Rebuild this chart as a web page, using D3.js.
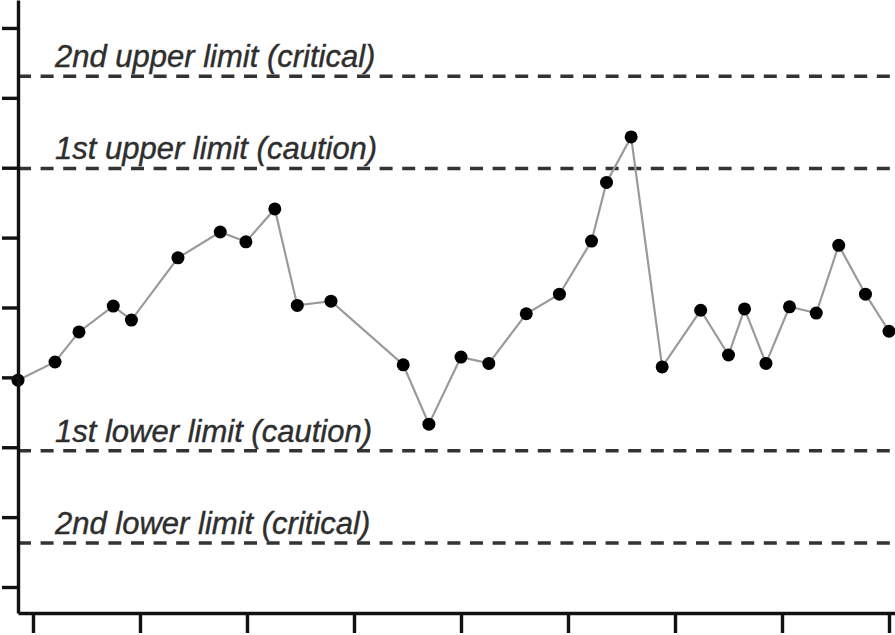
<!DOCTYPE html>
<html>
<head>
<meta charset="utf-8">
<script src="https://cdn.jsdelivr.net/npm/d3@7/dist/d3.min.js"></script>
<style>
  html, body { margin: 0; padding: 0; background: #fff; }
  svg { display: block; }
</style>
</head>
<body>
<svg id="chart" width="895" height="635"></svg>
<script>
// ---- data ----
const xValues = [-1.4, 2.06, 4.3, 7.5, 9.2, 13.55, 17.5, 19.9, 22.6, 24.7,
                 27.85, 34.6, 37.0, 40.0, 42.6, 46.1, 49.2, 52.2, 53.6, 55.9,
                 58.8, 62.4, 65.0, 66.5, 68.5, 70.7, 73.2, 75.3, 77.8, 80.0];
const yValues = [29.6, 32.2, 36.5, 40.2, 38.2, 47.1, 50.8, 49.4, 54.1, 40.3,
                 40.9, 31.8, 23.3, 32.9, 32.0, 39.1, 41.9, 49.5, 57.9, 64.4,
                 31.5, 39.6, 33.2, 39.8, 32.0, 40.1, 39.2, 48.9, 41.9, 36.6];
const limitLabels = ["2nd upper limit (critical)", "1st upper limit (caution)",
                     "1st lower limit (caution)", "2nd lower limit (critical)"];
const limitValues = [73.1, 59.9, 19.5, 6.3];
const xTicks = [0, 10, 20, 30, 40, 50, 60, 70, 80];
const yTicks = [0, 10, 20, 30, 40, 50, 60, 70, 80];

(function () {
  // ---- layout ----
  const svg = d3.select("#chart");
  const mLeft = 18, mRight = 895, mTop = 0, mBottom = 613;

  const x = d3.scaleLinear().domain([-1.4, 80.56]).range([mLeft, mRight]);
  const y = d3.scaleLinear().domain([-3.72, 84.0]).range([mBottom, mTop]);

  // limit lines
  const limits = limitValues.map((v, i) => ({ v, label: limitLabels[i] }));
  svg.selectAll("line.limit").data(limits).join("line")
    .attr("class", "limit")
    .attr("x1", mLeft).attr("x2", mRight)
    .attr("y1", d => y(d.v)).attr("y2", d => y(d.v))
    .attr("stroke", "#333")
    .attr("stroke-width", 3.5)
    .attr("stroke-dasharray", "13,9.6");

  svg.selectAll("text.limit").data(limits).join("text")
    .attr("class", "limit")
    .attr("x", 55)
    .attr("y", d => y(d.v) - 9)
    .attr("font-family", "'Liberation Sans', Arial, sans-serif")
    .attr("font-style", "italic")
    .attr("font-size", 31)
    .attr("fill", "#2e2e2e")
    .attr("stroke", "#2e2e2e")
    .attr("stroke-width", 0.4)
    .text(d => d.label);

  // data line + points
  const pts = xValues.map((xv, i) => [xv, yValues[i]]);
  svg.append("path")
    .datum(pts)
    .attr("fill", "none")
    .attr("stroke", "#9a9a9a")
    .attr("stroke-width", 2.2)
    .attr("d", d3.line().x(d => x(d[0])).y(d => y(d[1])));

  svg.selectAll("circle.pt").data(pts).join("circle")
    .attr("class", "pt")
    .attr("cx", d => x(d[0])).attr("cy", d => y(d[1]))
    .attr("r", 6.5)
    .attr("fill", "#000");

  // axes
  const yAxis = d3.axisLeft(y).tickValues(yTicks).tickSize(16).tickFormat("").tickSizeOuter(0);
  const gy = svg.append("g").attr("transform", `translate(${mLeft},0)`).call(yAxis);
  const xAxis = d3.axisBottom(x).tickValues(xTicks).tickSize(20).tickFormat("").tickSizeOuter(0);
  const gx = svg.append("g").attr("transform", `translate(0,${mBottom})`).call(xAxis);
  [gx, gy].forEach(g => {
    g.select(".domain").attr("stroke", "#111").attr("stroke-width", 3.4);
    g.selectAll(".tick line").attr("stroke", "#111").attr("stroke-width", 3.4);
  });
})();
</script>
</body>
</html>
